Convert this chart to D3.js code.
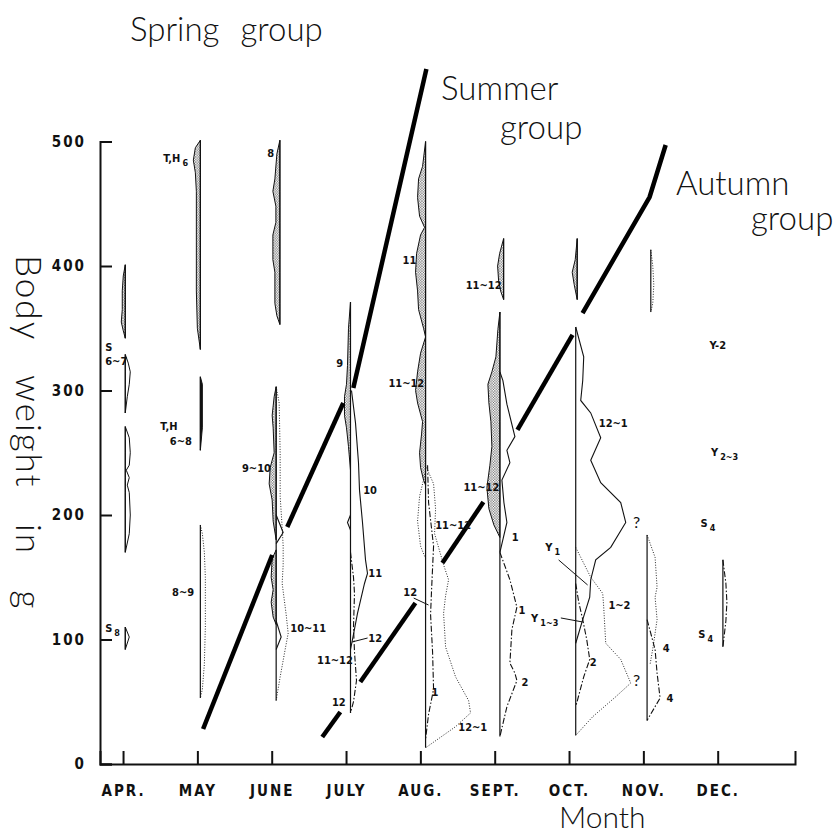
<!DOCTYPE html>
<html lang="en">
<head>
<meta charset="UTF-8">
<title>Body weight by month</title>
<script src="https://cdnjs.cloudflare.com/ajax/libs/d3/7.8.5/d3.min.js"></script>
<style>
  body { margin: 0; background: #fff; }
  svg text { fill: #111; }
  .title { font-family: Lato, "DejaVu Sans", sans-serif; font-weight: 300; font-size: 33px; fill: #111; }
  .axis text { font-family: "Liberation Sans Narrow", "DejaVu Sans Condensed", sans-serif; font-weight: bold; font-size: 15px; letter-spacing: 2px; }
  .axis path, .axis line { stroke: #111; stroke-width: 2px; }
  .lab { font-family: "Liberation Sans Narrow", "DejaVu Sans Condensed", sans-serif; font-weight: bold; font-size: 11px; }
  .q { font-family: Lato, "DejaVu Sans", sans-serif; font-weight: 400; font-size: 16px; fill: #111; }
</style>
</head>
<body>
<div id="chart"></div>
<script>
// month categories on the x axis, weight ticks on the y axis
const months = ["APR.", "MAY", "JUNE", "JULY", "AUG.", "SEPT.", "OCT.", "NOV.", "DEC."];
const yTicks = [0, 100, 200, 300, 400, 500];

// vertical sampling lines: [month, top weight, bottom weight]
const columns = [
    [0.03, 401, 342], [0.03, 329, 282], [0.03, 271, 170], [0.03, 110, 92],
    [1.04, 501, 333], [1.04, 311, 252], [1.04, 192, 53],
    [2.11, 501, 353], [2.06, 303, 51],
    [3.06, 371, 41],
    [4.07, 500, 13],
    [5.12, 422, 373], [5.07, 363, 22],
    [6.11, 422, 373], [6.09, 351, 23],
    [7.10, 413, 363], [7.05, 184, 35],
    [8.07, 164, 94]
];

// stippled frequency spindles (drawn to the left): [weight, frequency]
const stippled = [
    {m: 0.03, pts: [[401,0],[392,2],[380,3],[365,3],[355,4],[348,2],[342,0]]},
    {m: 1.04, pts: [[501,0],[495,5],[485,7],[475,5],[460,4],[420,4],[380,4],[350,3],[333,0]]},
    {m: 2.11, pts: [[501,0],[490,3],[470,5],[460,7],[448,4],[435,4],[425,7],[405,7],[395,5],[370,5],[360,3],[353,0]]},
    {m: 2.06, pts: [[303,0],[295,2],[280,4],[270,3],[250,2],[238,6],[225,7],[212,4],[195,3],[180,0]]},
    {m: 2.06, pts: [[172,0],[165,4],[150,5],[140,3],[130,5],[118,3],[112,0]]},
    {m: 3.06, pts: [[371,0],[350,2],[320,3],[305,4],[295,6],[280,6],[270,4],[255,2],[236,0]]},
    {m: 4.07, pts: [[500,0],[480,3],[470,7],[455,8],[440,6],[431,1],[425,5],[410,9],[395,10],[380,8],[365,7],[350,2],[343,0]]},
    {m: 4.07, pts: [[343,0],[330,5],[315,8],[300,10],[290,8],[275,3],[265,4],[250,6],[238,5],[228,2],[224,0]]},
    {m: 5.12, pts: [[422,0],[410,4],[400,6],[388,5],[380,3],[373,0]]},
    {m: 5.07, pts: [[363,0],[349,2],[327,4],[315,8],[305,12],[290,11],[275,9],[255,8],[240,10],[222,13],[205,11],[192,6],[182,0]]},
    {m: 6.11, pts: [[422,0],[405,2],[395,5],[385,3],[373,0]]}
];

// open spindles bulging to the right (April)
const outlined = [
    {m: 0.03, pts: [[329,0],[322,3],[315,5],[305,4],[295,2],[282,0]]},
    {m: 0.03, pts: [[271,0],[262,4],[250,5],[240,4],[236,1],[230,4],[224,2],[218,4],[200,5],[185,4],[170,0]]},
    {m: 0.03, pts: [[110,0],[102,4],[92,0]]}
];

// solid black spindle
const blackFill = [
    {m: 1.04, pts: [[311,0],[305,2],[270,2],[252,0]]}
];

// frequency profiles drawn beside the columns
const profiles = [
    {m: 1.04, kind: "dotted", pts: [[192,0],[185,2],[170,4],[150,5],[110,5],[80,4],[60,2],[53,0]]},
    {m: 2.06, kind: "dotted", pts: [[303,0],[290,3],[250,4],[215,4],[190,6],[175,7],[160,7],[145,6],[120,10],[105,12],[92,9],[70,4],[51,0]]},
    {m: 2.06, kind: "solid", pts: [[200,0],[186,7],[177,0]]},
    {m: 2.06, kind: "solid", pts: [[115,0],[102,5],[92,0]]},
    {m: 3.06, kind: "solid", pts: [[300,1],[274,5],[242,8],[220,9],[194,12],[164,15],[153,17],[145,14],[121,7],[100,2],[92,0]]},
    {m: 3.06, kind: "solid", pts: [[200,0],[194,-3],[188,0]]},
    {m: 3.06, kind: "dashdot", pts: [[170,0],[150,3],[137,4],[110,3],[90,4],[67,6],[50,3],[41,0]]},
    {m: 4.07, kind: "dashdot", pts: [[240,2],[210,3],[175,8],[140,6],[120,5],[90,7],[60,8],[40,3],[20,0]]},
    {m: 4.07, kind: "dotted", pts: [[235,0],[215,-6],[195,-8],[175,-5],[165,0]]},
    {m: 4.07, kind: "dotted", pts: [[240,0],[225,8],[205,10],[185,9],[174,13],[160,18],[148,23],[135,20],[121,18],[108,19],[94,20],[70,30],[51,43],[41,45],[30,30],[13,0]]},
    {m: 5.07, kind: "solid", pts: [[315,0],[308,3],[289,7],[263,15],[252,7],[242,10],[228,2],[210,4],[194,7],[170,0]]},
    {m: 5.07, kind: "dashdot", pts: [[170,0],[148,10],[126,17],[108,12],[81,10],[73,15],[67,17],[46,7],[22,0]]},
    {m: 6.09, kind: "solid", pts: [[351,0],[327,8],[308,7],[292,5],[282,15],[262,25],[244,15],[226,25],[210,45],[194,50],[174,35],[164,20],[148,15],[134,14],[116,7],[97,0]]},
    {m: 6.09, kind: "dashdot", pts: [[145,0],[130,3],[116,7],[100,11],[84,14],[70,8],[46,0]]},
    {m: 6.09, kind: "dotted", pts: [[174,0],[150,15],[137,27],[126,28],[97,30],[84,45],[65,55],[54,40],[38,17],[23,0]]},
    {m: 7.10, kind: "dotted", pts: [[413,0],[400,2],[385,3],[370,2],[363,0]]},
    {m: 7.05, kind: "dotted", pts: [[184,0],[166,8],[142,10],[134,8],[116,10],[94,6],[80,3]]},
    {m: 7.05, kind: "dashdot", pts: [[116,0],[92,8],[73,10],[53,13],[35,0]]},
    {m: 8.07, kind: "dashdot", pts: [[164,0],[145,3],[130,4],[115,3],[94,0]]}
];

// heavy group boundaries, as broken segments [[month, weight], ...]
const springSummer = [
    [[1.077, 28.1], [2.007, 167.9]],
    [[2.209, 190.4], [2.963, 290.0]],
    [[3.098, 302.0], [4.081, 558.2]]
];
const summerAutumn = [
    [[2.680, 21.7], [2.923, 41.8]],
    [[3.192, 65.9], [3.933, 129.3]],
    [[4.296, 161.4], [4.848, 210.4]],
    [[5.306, 268.3], [6.047, 344.6]],
    [[6.182, 362.2], [7.084, 455.4], [7.300, 497.2]]
];

// thin leader lines from labels
const leaders = [
    [[3.08, 98.0], [3.29, 101.2]],
    [[3.91, 133.3], [4.11, 127.7]],
    [[5.86, 163.9], [6.25, 143.8]],
    [[5.89, 117.3], [6.18, 114.1]]
];

// cohort labels: text, subscript, month, weight
const labels = [
    ["T,H", "6", 0.54, 483.5], ["8", "", 1.94, 487.6],
    ["S", "", -0.24, 331.5], ["6~7", "", -0.24, 320.5],
    ["T,H", "", 0.50, 268.5], ["6~8", "", 0.63, 256.5],
    ["9~10", "", 1.60, 234.5], ["8~9", "", 0.66, 134.9],
    ["S", "8", -0.24, 106.0], ["10~11", "", 2.25, 106.0],
    ["9", "", 2.87, 318.9], ["10", "", 3.23, 216.9], ["11", "", 3.30, 150.2],
    ["12", "", 3.30, 98.0], ["11~12", "", 2.61, 80.3], ["12", "", 2.81, 46.6],
    ["11", "", 3.76, 401.6], ["11~12", "", 3.57, 302.8], ["11~12", "", 4.20, 188.8],
    ["12", "", 3.77, 134.9], ["1", "", 4.15, 54.6], ["12~1", "", 4.51, 26.5],
    ["11~12", "", 4.61, 381.5], ["11~12", "", 4.58, 219.3],
    ["1", "", 5.23, 179.1], ["1", "", 5.32, 120.5], ["2", "", 5.36, 62.7],
    ["12~1", "", 6.40, 270.7], ["Y", "1", 5.68, 171.1], ["Y", "1~3", 5.49, 114.1],
    ["2", "", 6.28, 78.7], ["1~2", "", 6.53, 124.5],
    ["4", "", 7.26, 90.0], ["4", "", 7.31, 49.8],
    ["Y-2", "", 7.89, 333.3], ["Y", "2~3", 7.91, 247.4],
    ["S", "4", 7.77, 190.4], ["S", "4", 7.74, 101.2]
];
const queries = [[6.86, 189.6], [6.86, 62.7]];

const width = 837, height = 835;

const svg = d3.select("#chart").append("svg")
    .attr("width", width)
    .attr("height", height)
    .style("display", "block");

const x = d3.scaleLinear().domain([-0.31, 9.04]).range([100, 795]);
const y = d3.scaleLinear().domain([0, 500]).range([764, 141.5]);
const spread = d3.scaleLinear().domain([0, 10]).range([0, 10]);

// stipple pattern
const pat = svg.append("defs").append("pattern")
    .attr("id", "stipple")
    .attr("width", 2.6).attr("height", 2.6)
    .attr("patternUnits", "userSpaceOnUse");
pat.append("rect").attr("width", 2.6).attr("height", 2.6).attr("fill", "#fff");
pat.append("circle").attr("cx", 0.8).attr("cy", 0.8).attr("r", 0.65).attr("fill", "#222");
pat.append("circle").attr("cx", 2.1).attr("cy", 2.1).attr("r", 0.5).attr("fill", "#444");

// axes
svg.append("g")
    .attr("class", "axis")
    .attr("transform", `translate(0,${y(0)})`)
    .call(d3.axisBottom(x)
        .tickValues(d3.range(months.length))
        .tickSizeInner(-13)
        .tickSizeOuter(-13)
        .tickPadding(21)
        .tickFormat(i => months[i]));

svg.append("g")
    .attr("class", "axis")
    .attr("transform", `translate(${x(-0.31)},0)`)
    .call(d3.axisLeft(y)
        .tickValues(yTicks)
        .tickSizeInner(-12)
        .tickSizeOuter(-12)
        .tickPadding(14));

// spindles
const leftArea = m => d3.area()
    .x0(() => x(m))
    .x1(d => x(m) - spread(d[1]))
    .y(d => y(d[0]));
const rightArea = m => d3.area()
    .x0(() => x(m))
    .x1(d => x(m) + spread(d[1]))
    .y(d => y(d[0]));

svg.append("g").selectAll("path")
    .data(stippled)
    .join("path")
    .attr("d", d => leftArea(d.m)(d.pts))
    .attr("fill", "url(#stipple)")
    .attr("stroke", "#111")
    .attr("stroke-width", 1);

svg.append("g").selectAll("path")
    .data(outlined)
    .join("path")
    .attr("d", d => rightArea(d.m)(d.pts))
    .attr("fill", "none")
    .attr("stroke", "#111")
    .attr("stroke-width", 1);

svg.append("g").selectAll("path")
    .data(blackFill)
    .join("path")
    .attr("d", d => rightArea(d.m)(d.pts))
    .attr("fill", "#111")
    .attr("stroke", "#111")
    .attr("stroke-width", 1);

// columns
svg.append("g").selectAll("line")
    .data(columns)
    .join("line")
    .attr("x1", d => x(d[0])).attr("x2", d => x(d[0]))
    .attr("y1", d => y(d[1])).attr("y2", d => y(d[2]))
    .attr("stroke", "#111")
    .attr("stroke-width", 1.2);

// profiles
const dash = {solid: null, dashdot: "6,2,1.5,2", dotted: "1,1.6"};
const profLine = m => d3.line()
    .x(d => x(m) + spread(d[1]))
    .y(d => y(d[0]));

svg.append("g").selectAll("path")
    .data(profiles)
    .join("path")
    .attr("d", d => profLine(d.m)(d.pts))
    .attr("fill", "none")
    .attr("stroke", "#111")
    .attr("stroke-width", d => d.kind === "dotted" ? 0.9 : 1.1)
    .attr("stroke-dasharray", d => dash[d.kind]);

// group boundaries
const seg = d3.line().x(d => x(d[0])).y(d => y(d[1]));
svg.append("g").selectAll("path")
    .data(springSummer.concat(summerAutumn))
    .join("path")
    .attr("d", seg)
    .attr("fill", "none")
    .attr("stroke", "#000")
    .attr("stroke-width", 4.5)
    .attr("stroke-linejoin", "round");

svg.append("g").selectAll("path")
    .data(leaders)
    .join("path")
    .attr("d", seg)
    .attr("stroke", "#111")
    .attr("stroke-width", 1);

// labels
const lab = svg.append("g").selectAll("text")
    .data(labels)
    .join("text")
    .attr("class", "lab")
    .attr("x", d => x(d[2]))
    .attr("y", d => y(d[3]));
lab.append("tspan").text(d => d[0]);
lab.filter(d => d[1]).append("tspan")
    .attr("dy", 4)
    .attr("dx", 2)
    .attr("font-size", 9)
    .text(d => d[1]);

svg.append("g").selectAll("text")
    .data(queries)
    .join("text")
    .attr("class", "q")
    .attr("x", d => x(d[0]))
    .attr("y", d => y(d[1]))
    .text("?");

// titles
svg.append("text").attr("class", "title").attr("x", 130).attr("y", 41)
    .attr("word-spacing", 12).text("Spring group");
svg.append("text").attr("class", "title").attr("x", 441).attr("y", 100).text("Summer");
svg.append("text").attr("class", "title").attr("x", 500).attr("y", 139).text("group");
svg.append("text").attr("class", "title").attr("x", 676).attr("y", 195).text("Autumn");
svg.append("text").attr("class", "title").attr("x", 751).attr("y", 230).text("group");
svg.append("text").attr("class", "title").attr("x", 559).attr("y", 828)
    .style("font-size", "30px").text("Month");
svg.append("text").attr("class", "title")
    .attr("transform", "translate(16,255) rotate(90)")
    .style("font-size", "35px")
    .attr("letter-spacing", 2)
    .attr("word-spacing", 24)
    .text("Body weight in g");
</script>
</body>
</html>
